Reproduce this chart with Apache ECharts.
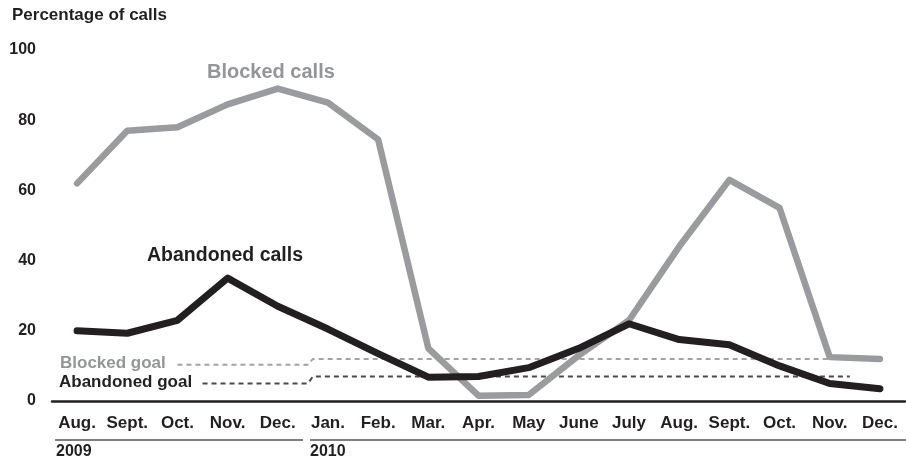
<!DOCTYPE html>
<html>
<head>
<meta charset="utf-8">
<script src="https://cdn.jsdelivr.net/npm/echarts@6/dist/echarts.min.js"></script>
<style>html,body{margin:0;padding:0;background:#fff}#c{width:906px;height:462px}</style>
</head>
<body>
<div id="c"></div>
<script>
const months = ['Aug.','Sept.','Oct.','Nov.','Dec.','Jan.','Feb.','Mar.','Apr.','May','June','July','Aug.','Sept.','Oct.','Nov.','Dec.'];
const blocked = [62, 77, 78, 84.5, 89, 85, 74.5, 15, 1.5, 1.7, 13, 23, 44, 63, 55, 12.5, 12];
const abandoned = [20, 19.3, 23, 35, 27, 20.5, 13.5, 6.8, 7, 9.5, 15, 22, 17.5, 16, 10, 5, 3.5];
// goal lines: [category position, value]
const blockedGoal = [[2.0, 10.3], [4.6, 10.3], [4.7, 12], [15.2, 12]];
const abandonedGoal = [[2.5, 5], [4.6, 5], [4.7, 7], [15.4, 7]];
const yTicks = [0, 20, 40, 60, 80, 100];
const years = ['2009', '2010'];

const dark = '#231f20';
const gray = '#9a9b9f';
const font = 'Liberation Sans, Arial, Helvetica, sans-serif';

const chart = echarts.init(document.getElementById('c'), null, {renderer: 'canvas'});
chart.setOption({
  animation: false,
  backgroundColor: '#fff',
  grid: {left: 52, right: 1, top: 50, bottom: 61, containLabel: false},
  xAxis: [{
    type: 'category',
    data: months,
    boundaryGap: true,
    axisLine: {show: true, lineStyle: {color: dark, width: 2.5}},
    axisTick: {show: false},
    axisLabel: {color: dark, fontWeight: 'bold', fontSize: 17, fontFamily: font, margin: 14, interval: 0}
  }, {
    type: 'value', min: -0.5, max: 16.5, show: false
  }],
  yAxis: {
    type: 'value', min: 0, max: 100, interval: 20,
    axisLine: {show: false}, axisTick: {show: false}, splitLine: {show: false},
    axisLabel: {color: dark, fontWeight: 'bold', fontSize: 16, fontFamily: font, margin: 16}
  },
  graphic: [
    {type: 'text', left: 12, top: 7, style: {text: 'Percentage of calls', fill: dark, font: 'bold 17px ' + font}},
    {type: 'text', left: 207, top: 62, style: {text: 'Blocked calls', fill: '#939598', font: 'bold 20px ' + font}},
    {type: 'text', left: 147, top: 246, style: {text: 'Abandoned calls', fill: dark, font: 'bold 19.5px ' + font}},
    {type: 'text', left: 60, top: 355, style: {text: 'Blocked goal', fill: '#939598', font: 'bold 17px ' + font}},
    {type: 'text', left: 59, top: 374, style: {text: 'Abandoned goal', fill: dark, font: 'bold 17px ' + font}},
    {type: 'line', shape: {x1: 55, y1: 440, x2: 303, y2: 440}, style: {stroke: '#555', lineWidth: 1.5}},
    {type: 'line', shape: {x1: 310, y1: 440, x2: 906, y2: 440}, style: {stroke: '#555', lineWidth: 1.5}},
    {type: 'text', left: 56, top: 444, style: {text: years[0], fill: dark, font: 'bold 16px ' + font}},
    {type: 'text', left: 310, top: 444, style: {text: years[1], fill: dark, font: 'bold 16px ' + font}}
  ],
  series: [
    {type: 'line', xAxisIndex: 1, data: blockedGoal, symbol: 'none', silent: true,
     lineStyle: {color: '#a3a3a6', width: 2, type: [5, 4]}},
    {type: 'line', xAxisIndex: 1, data: abandonedGoal, symbol: 'none', silent: true,
     lineStyle: {color: '#4a4a4a', width: 2, type: [5, 4]}},
    {type: 'line', data: blocked, symbol: 'none',
     lineStyle: {color: gray, width: 6.5, cap: 'round', join: 'round'}},
    {type: 'line', data: abandoned, symbol: 'none',
     lineStyle: {color: dark, width: 7, cap: 'round', join: 'round'}}
  ]
});
</script>
</body>
</html>
